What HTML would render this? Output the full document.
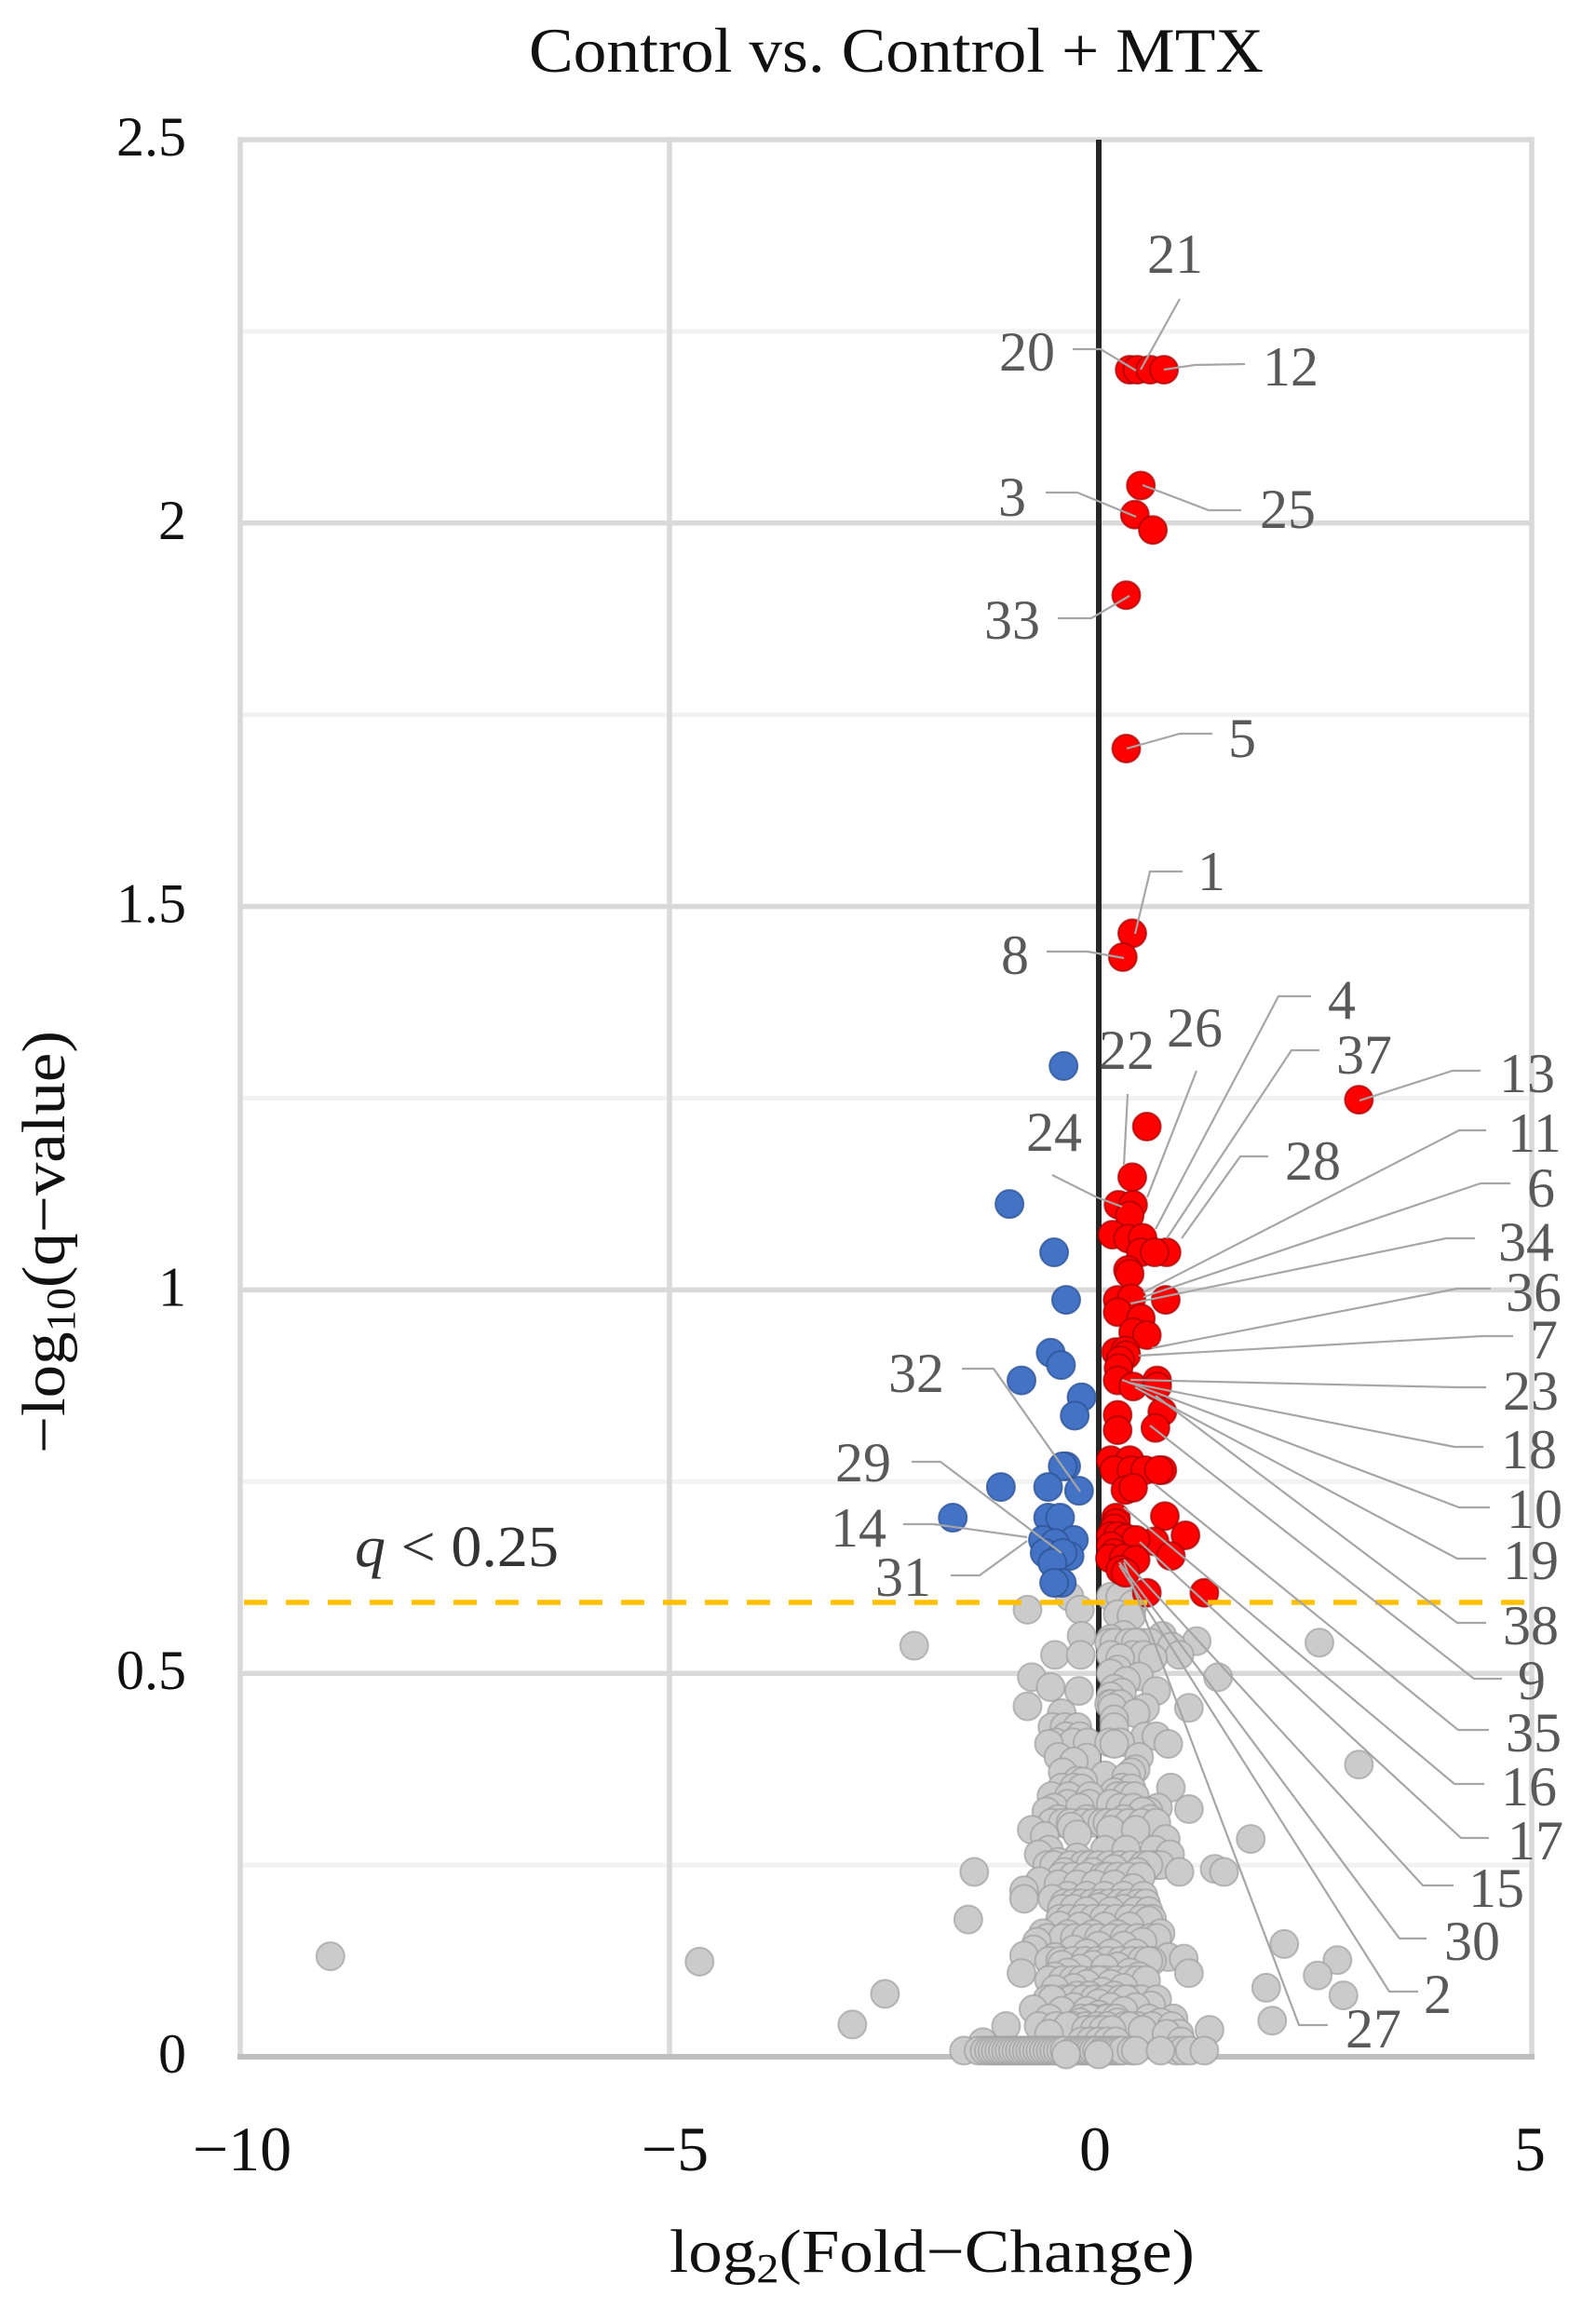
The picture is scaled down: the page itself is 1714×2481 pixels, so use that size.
<!DOCTYPE html>
<html lang="en">
<head>
<meta charset="utf-8">
<title>Control vs. Control + MTX volcano plot</title>
<style>
html,body{margin:0;padding:0;background:#fff}
svg{display:block}
text{font-family:"Liberation Serif",serif}
.lbl{font-size:60px;fill:#595959;text-anchor:middle}
.ldr{fill:none;stroke:#a6a6a6;stroke-width:2.2}
</style>
</head>
<body>
<svg id="chart" xmlns="http://www.w3.org/2000/svg" width="1714" height="2481" viewBox="0 0 1714 2481">
<rect width="1714" height="2481" fill="#ffffff"/>
<text x="568" y="77" font-size="68" fill="#111" textLength="789" lengthAdjust="spacingAndGlyphs">Control vs. Control + MTX</text>
<g id="grid"></g>
<g id="ticks"></g>
<g id="grey"></g>
<g id="blue"></g>
<g id="red"></g>
<g id="thresh"></g>
<text x="381" y="1682" font-size="62" fill="#333" textLength="219" lengthAdjust="spacingAndGlyphs"><tspan font-style="italic">q</tspan> &lt; 0.25</text>
<text transform="translate(69,1561) rotate(-90)" font-size="66" fill="#111" textLength="454" lengthAdjust="spacingAndGlyphs">−log<tspan font-size="44" dy="11">10</tspan><tspan dy="-11">(q−value)</tspan></text>
<text x="719" y="2440" font-size="66" fill="#111" textLength="564" lengthAdjust="spacingAndGlyphs">log<tspan font-size="44" dy="11">2</tspan><tspan dy="-11">(Fold−Change)</tspan></text>

<g>
<polyline class="ldr" points="1267,321 1225,397"/>
<polyline class="ldr" points="1152,375 1182,375 1220,398"/>
<polyline class="ldr" points="1337,391 1283,392 1250,397"/>
<polyline class="ldr" points="1123,529 1157,529 1220,555"/>
<polyline class="ldr" points="1333,548 1298,548 1227,521"/>
<polyline class="ldr" points="1136,664 1172,664 1213,640"/>
<polyline class="ldr" points="1302,788 1267,788 1210,804"/>
<polyline class="ldr" points="1270,936 1235,936 1219,1003"/>
<polyline class="ldr" points="1124,1022 1168,1022 1207,1029"/>
<polyline class="ldr" points="1408,1070 1373,1070 1241,1320"/>
<polyline class="ldr" points="1417,1128 1387,1128 1253,1330"/>
<polyline class="ldr" points="1285,1150 1232,1286"/>
<polyline class="ldr" points="1211,1175 1207,1252"/>
<polyline class="ldr" points="1590,1150 1560,1150 1460,1182"/>
<polyline class="ldr" points="1130,1262 1178,1286 1205,1296"/>
<polyline class="ldr" points="1362,1242 1332,1242 1269,1330"/>
<polyline class="ldr" points="1596,1214 1567,1214 1228,1388"/>
<polyline class="ldr" points="1622,1271 1590,1271 1228,1393"/>
<polyline class="ldr" points="1584,1330 1553,1330 1214,1400"/>
<polyline class="ldr" points="1601,1384 1565,1384 1237,1448"/>
<polyline class="ldr" points="1625,1435 1592,1435 1223,1456"/>
<polyline class="ldr" points="1596,1490 1565,1490 1214,1482"/>
<polyline class="ldr" points="1593,1554 1562,1554 1212,1485"/>
<polyline class="ldr" points="1600,1619 1567,1619 1205,1482"/>
<polyline class="ldr" points="1596,1674 1565,1674 1219,1490"/>
<polyline class="ldr" points="1596,1743 1565,1743 1241,1499"/>
<polyline class="ldr" points="1613,1803 1583,1803 1235,1531"/>
<polyline class="ldr" points="1599,1858 1566,1858 1240,1594"/>
<polyline class="ldr" points="1594,1916 1562,1916 1207,1619"/>
<polyline class="ldr" points="1599,1974 1569,1974 1224,1656"/>
<polyline class="ldr" points="1561,2025 1528,2025 1207,1675"/>
<polyline class="ldr" points="1532,2082 1503,2082 1202,1678"/>
<polyline class="ldr" points="1523,2139 1492,2139 1202,1681"/>
<polyline class="ldr" points="1426,2175 1395,2175 1207,1678"/>
<polyline class="ldr" points="1033,1470 1067,1470 1160,1602"/>
<polyline class="ldr" points="979,1570 1010,1570 1140,1668"/>
<polyline class="ldr" points="970,1637 1003,1637 1103,1651"/>
<polyline class="ldr" points="1021,1692 1052,1692 1103,1655"/>
</g>

<g>
<text class="lbl" x="1262" y="293">21</text>
<text class="lbl" x="1103" y="398">20</text>
<text class="lbl" x="1386" y="414">12</text>
<text class="lbl" x="1087" y="554">3</text>
<text class="lbl" x="1383" y="567">25</text>
<text class="lbl" x="1087" y="686">33</text>
<text class="lbl" x="1334" y="813">5</text>
<text class="lbl" x="1301" y="956">1</text>
<text class="lbl" x="1090" y="1046">8</text>
<text class="lbl" x="1441" y="1094">4</text>
<text class="lbl" x="1283" y="1124">26</text>
<text class="lbl" x="1210" y="1148">22</text>
<text class="lbl" x="1465" y="1153">37</text>
<text class="lbl" x="1640" y="1173">13</text>
<text class="lbl" x="1132" y="1236">24</text>
<text class="lbl" x="1648" y="1237">11</text>
<text class="lbl" x="1410" y="1267">28</text>
<text class="lbl" x="1655" y="1296">6</text>
<text class="lbl" x="1639" y="1354">34</text>
<text class="lbl" x="1647" y="1408">36</text>
<text class="lbl" x="1658" y="1459">7</text>
<text class="lbl" x="1644" y="1514">23</text>
<text class="lbl" x="1642" y="1577">18</text>
<text class="lbl" x="1648" y="1641">10</text>
<text class="lbl" x="1644" y="1696">19</text>
<text class="lbl" x="1644" y="1766">38</text>
<text class="lbl" x="1645" y="1825">9</text>
<text class="lbl" x="1647" y="1881">35</text>
<text class="lbl" x="1642" y="1939">16</text>
<text class="lbl" x="1649" y="1997">17</text>
<text class="lbl" x="1607" y="2048">15</text>
<text class="lbl" x="1581" y="2105">30</text>
<text class="lbl" x="1544" y="2162">2</text>
<text class="lbl" x="1475" y="2199">27</text>
<text class="lbl" x="984" y="1495">32</text>
<text class="lbl" x="927" y="1591">29</text>
<text class="lbl" x="922" y="1661">14</text>
<text class="lbl" x="970" y="1714">31</text>
</g>
</svg>

<script>
const xTicks = [-10, -5, 0, 5];
const yTicks = [0, 0.5, 1, 1.5, 2, 2.5];
const yMinorTicks = [0.25, 0.75, 1.25, 1.75, 2.25];
const qThreshold = 0.5925;

const greyX = [
-.55,-.42,-.33,-.18,-.06,.04,.10,.20,.35,.50,.67,
-.60,-.52,-.33,-.18,-.10,.0,.12,.25,.38,.52,.66,.72,
-.44,-.3,-.15,.05,.1,.22,.35,.49,
-.4,-.3,-.2,-.08,.02,.12,.24,.34,.46,.55,
-.45,-.35,-.2,-.06,.06,.2,.35,.5,.62,
-.6,-.42,-.28,-.15,.0,.15,.3,.45,.6,.68,
-.58,-.45,-.3,-.16,-.02,.1,.25,.38,.5,.62,
-.58,-.42,-.3,-.2,-.05,.08,.2,.35,.45,.55,
-.6,-.4,-.32,-.18,-.05,.08,.25,.38,.5,.68,
-.7,-.5,-.3,-.15,-.02,.1,.3,.45,.62,.85,
.12,.18,.35,.5,.6,
.12,.15,.25,
-.5,-.3,-.13,.12,.25,
-.55,-.35,-.1,.22,.32,.42,
-.83,-.34,-.22,.14,.25,.40,.22,.38,
-.20,.74,.85,.14,.29,.43,1.14,-2.15,
-.51,-.21,.14,.25,.40,.52,.63,.94,.22,.14,
-.78,-.56,-.23,1.39,.47,.32,.18,.14,.67,.27,
-.83,1.05,.16,.43,.54,.18,.18,
-.43,-.54,-.40,-.25,-.38,-.22,-.58,.18,.54,.67,.81,
-.47,-.14,-.29,.47,.38,.43,-.42,-.18,-.25,.07,.32,-.43,-.29,-.20,.27,.38,.18,.84,
1.05,.69,.58,-.61,-.52,-.36,-.22,-.11,.14,.25,.40,.51,
-.78,-.63,-.47,-.32,-.25,-.14,.14,.29,.43,.60,.78,1.77,
-.70,-.47,-.40,-.25,-.07,.18,.45,.58,.83,.94,1.35,1.46,-1.45,.07,.32,.65,-.58,
-.87,-.87,-.69,-.54,-.47,-.36,-.25,-.14,-.04,.07,.18,.29,.40,.52,
-.43,-.29,-.14,0,.14,.29,.43,.58,-1.52,.72,.58,-.65,-.45,-.72,-.87,-.76,-.90,
.81,.99,1.05,-.51,-.36,-.22,-.07,.07,.22,.36,.51,-.29,-.14,0,.14,.29,.43,.58,-.43,
-.51,-.36,-.22,-.07,.07,.22,.36,.47,-.51,-.29,-.14,0,.14,.29,-.54,-.25,-.11,.04,.18,.32,.61,-.76,
-2.49,-2.87,2.16,1.95,2.02,.87,-1.08,1.29,.94,-1.35,-.58,-.43,-.29,-.14,0,.14,.29,.43,.58,.72,-.58,-.36,-.22,-.07,.07,.22,.36,.51,.79,.96,
-8.95,-4.65,2.57,3.03,2.78,2.55,2.85,
-.2,-.1,0,.1,.2,-.15,-.05,.05,.15,-.2,-.1,0,.1,.2,
-1.57,-1.40,-1.33,-1.28,-1.24,-1.20,-1.16,-1.12,-1.08,-1.04,-1.00,-.96,-.92,-.88,-.84,-.80,-.76,-.72,-.68,-.64,-.60,-.56,-.52,-.48,-.44,-.40,-.30,-.26,-.22,-.18,-.14,-.10,-.06,-.02,.04,.08,.12,.16,.20,.24,.28,.38,.90,.98,1.06,-.38,0,.43,.72,1.23
];
const greyY = [
.305,.305,.305,.305,.305,.305,.305,.305,.305,.305,.305,
.25,.25,.25,.25,.25,.25,.25,.25,.25,.25,.25,.25,
.235,.235,.235,.235,.235,.235,.235,.235,
.20,.20,.20,.20,.20,.20,.20,.20,.20,.20,
.18,.18,.18,.18,.18,.18,.18,.18,.18,
.155,.155,.155,.155,.155,.155,.155,.155,.155,.155,
.125,.125,.125,.125,.125,.125,.125,.125,.125,.125,
.10,.10,.10,.10,.10,.10,.10,.10,.10,.10,
.075,.075,.075,.075,.075,.075,.075,.075,.075,.075,
.04,.04,.04,.04,.04,.04,.04,.04,.04,.04,
.54,.54,.54,.54,.54,
.46,.46,.46,
.41,.41,.41,.41,.41,
.34,.34,.34,.34,.34,.34,
.583,.60,.583,.60,.60,.59,.577,.575,
.549,.549,.535,.545,.55,.54,.542,.536,
.524,.524,.524,.52,.524,.524,.52,.524,.505,.50,
.495,.482,.477,.495,.496,.49,.48,.47,.477,.475,
.457,.455,.455,.448,.455,.44,.43,
.448,.43,.43,.43,.418,.418,.408,.408,.418,.418,.408,
.391,.39,.385,.391,.371,.375,.371,.359,.36,.367,.365,.351,.351,.35,.351,.35,.345,.351,
.323,.325,.32,.32,.325,.33,.325,.33,.33,.325,.325,.32,
.296,.288,.31,.30,.29,.31,.296,.31,.296,.31,.284,.284,
.264,.254,.241,.26,.241,.245,.241,.25,.264,.241,.245,.241,.241,.27,.27,.27,.27,
.217,.206,.229,.206,.225,.21,.225,.21,.225,.21,.225,.21,.22,.21,
.193,.193,.19,.195,.19,.193,.19,.19,.179,.161,.178,.161,.171,.15,.132,.14,.109,
.13,.128,.109,.13,.16,.17,.16,.17,.16,.17,.15,.14,.135,.145,.135,.145,.135,.125,.12,
.105,.11,.115,.12,.115,.118,.11,.105,.088,.09,.095,.10,.095,.09,.075,.08,.08,.085,.08,.075,.067,.062,
.082,.042,.147,.09,.047,.05,.04,.035,.03,.019,.05,.06,.065,.06,.07,.065,.06,.065,.05,.045,.03,.04,.045,.05,.05,.045,.04,.035,.03,.02,
.131,.124,.54,.381,.126,.106,.08,
.02,.02,.02,.02,.02,.035,.035,.035,.035,.05,.05,.055,.05,.05,
.008,.008,.008,.008,.008,.008,.008,.008,.008,.008,.008,.008,.008,.008,.008,.008,.008,.008,.008,.008,.008,.008,.008,.008,.008,.008,.008,.008,.008,.008,.008,.008,.008,.008,.008,.008,.008,.008,.008,.008,.008,.008,.008,.008,.008,.003,.003,.008,.008,.008
];

const blueX = [-.41,-1.04,-.52,-.38,-.56,-.44,-.90,-.20,-.28,-.38,-.42,-1.14,-.59,-.23,-1.70,-.59,-.45,-.65,-.29,-.51,-.63,-.34,-.42,-.54,-.43,-.52];
const blueY = [1.292,1.112,1.049,.987,.918,.902,.882,.860,.836,.770,.770,.743,.743,.738,.703,.703,.703,.674,.674,.670,.657,.653,.657,.644,.618,.618];

const redX = [
.36,.45,.60,.76,.49,.42,.63,.32,.32,.39,.28,3.03,
.56,.39,.23,.40,.36,.16,.34,.51,.49,.79,.65,.34,.36,
.22,.38,.78,.22,.49,.40,.56,.20,.31,.32,.25,.23,.22,.40,.68,.68,
.74,.66,.22,.22,.14,.36,.18,.38,.54,.74,.70,.31,.40,
.77,1.01,.65,.84,.20,.20,.18,.14,.22,.32,.43,.14,.18,.13,.29,.43,.25,.31,.56,1.23
];
const redY = [
2.20,2.20,2.20,2.20,2.049,2.011,1.991,1.906,1.706,1.465,1.434,1.248,
1.213,1.147,1.111,1.111,1.097,1.072,1.067,1.068,1.049,1.049,1.049,1.026,1.021,
.987,.989,.987,.971,.963,.945,.941,.919,.921,.915,.908,.898,.882,.874,.882,.874,
.841,.820,.837,.817,.778,.778,.765,.765,.765,.765,.765,.739,.742,
.705,.680,.672,.653,.703,.696,.689,.679,.679,.676,.674,.666,.657,.650,.650,.648,.635,.631,.605,.605
];

const NS = 'http://www.w3.org/2000/svg';
const plotLeft = 258, plotRight = 1645, plotTop = 150, plotBottom = 2209;
const X = v => 1180 + 92.2 * v;
const Y = v => plotBottom - 823.6 * v;
const tickNudge = v => (v === -5 ? 6 : v === 0 ? -4 : v === 5 ? 2 : 2);

const gridG = document.getElementById('grid');
function addLine(x1, y1, x2, y2, color, width) {
  const ln = document.createElementNS(NS, 'line');
  ln.setAttribute('x1', x1);
  ln.setAttribute('y1', y1);
  ln.setAttribute('x2', x2);
  ln.setAttribute('y2', y2);
  ln.setAttribute('stroke', color);
  ln.setAttribute('stroke-width', width);
  gridG.appendChild(ln);
  return ln;
}

yMinorTicks.forEach(v => {
  const ln = addLine(plotLeft, Y(v), plotRight, Y(v), '#f2f2f2', 5);
  
  
});
yTicks.forEach(v => {
  if (v === 0) return;
  const ln = addLine(plotLeft, Y(v), plotRight, Y(v), '#d9d9d9', 5.5);
  
  
});
xTicks.forEach(v => {
  if (v === 0) return;
  const px = v === 5 ? plotRight : X(v);
  const ln = addLine(px, plotTop - 3, px, plotBottom, '#d9d9d9', 5.5);
  
  
});
const xAxisLine = addLine(plotLeft - 3, Y(0), plotRight + 3, Y(0), '#bfbfbf', 6);


const zeroLine = addLine(X(0), plotTop, X(0), plotBottom, '#262626', 6);



const tickG = document.getElementById('ticks');
yTicks.forEach(v => {
  const t = document.createElementNS(NS, 'text');
  t.setAttribute('x', 200);
  t.setAttribute('y', Y(v) + 17);
  t.setAttribute('font-size', '60');
  t.setAttribute('text-anchor', 'end');
  t.setAttribute('fill', '#111');
  t.textContent = String(v);
  
  
  tickG.appendChild(t);
});
xTicks.forEach(v => {
  const t = document.createElementNS(NS, 'text');
  t.setAttribute('x', X(v) + tickNudge(v));
  t.setAttribute('y', 2331);
  t.setAttribute('font-size', '68');
  t.setAttribute('text-anchor', 'middle');
  t.setAttribute('fill', '#111');
  t.textContent = String(v).replace('-', '\u2212');
  
  
  tickG.appendChild(t);
});

function makeDot(vx, vy, r, fill, stroke, strokeOpacity) {
  const c = document.createElementNS(NS, 'circle');
  c.setAttribute('cx', X(vx));
  c.setAttribute('cy', Y(vy));
  c.setAttribute('r', r);
  c.setAttribute('fill', fill);
  c.setAttribute('stroke', stroke);
  c.setAttribute('stroke-opacity', strokeOpacity);
  c.setAttribute('stroke-width', 2);
  return c;
}

const greyG = document.getElementById('grey');
greyX.map((_, i) => i)
  .sort((a, b) => greyY[b] - greyY[a])
  .forEach(i => {
    const c = makeDot(greyX[i], greyY[i], 15, '#cbcbcb', '#a0a0a0', 0.7);
    
    
    greyG.appendChild(c);
  });

const blueG = document.getElementById('blue');
blueX.forEach((vx, i) => {
  const c = makeDot(vx, blueY[i], 15, '#4472c4', '#2f5597', 0.8);
  
  
  blueG.appendChild(c);
});

const redG = document.getElementById('red');
redX.forEach((vx, i) => {
  const c = makeDot(vx, redY[i], 15, '#ff0000', '#a00000', 0.7);
  
  
  redG.appendChild(c);
});

const threshLine = document.createElementNS(NS, 'line');
threshLine.setAttribute('x1', 262);
threshLine.setAttribute('x2', 1637);
threshLine.setAttribute('y1', Y(qThreshold));
threshLine.setAttribute('y2', Y(qThreshold));
threshLine.setAttribute('stroke', '#ffc000');
threshLine.setAttribute('stroke-width', 5.5);
threshLine.setAttribute('stroke-dasharray', '25 20');


document.getElementById('thresh').appendChild(threshLine);
</script>
</body>
</html>
